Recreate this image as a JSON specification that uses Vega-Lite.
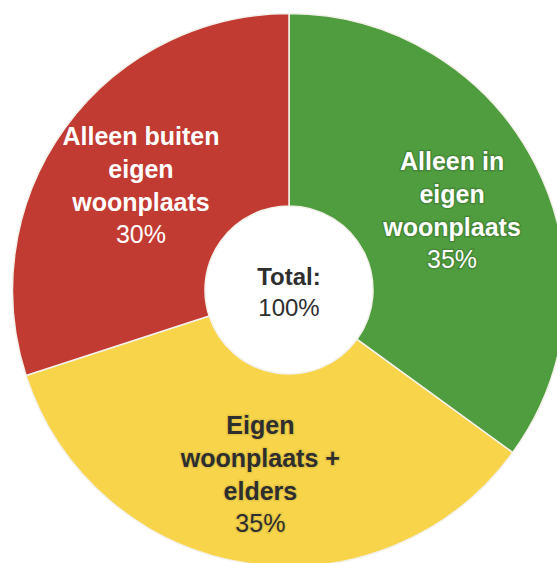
{
  "$schema": "https://vega.github.io/schema/vega-lite/v6.json",
  "width": 578,
  "height": 580,
  "autosize": {"type": "none"},
  "padding": 0,
  "background": "white",
  "view": {"stroke": null},
  "datasets": {
    "parts": [
      {"category": "Alleen in eigen woonplaats", "order": 1, "value": 35, "name": "Alleen in\neigen\nwoonplaats", "pct": "35%"},
      {"category": "Eigen woonplaats + elders", "order": 2, "value": 35, "name": "Eigen\nwoonplaats +\nelders", "pct": "35%"},
      {"category": "Alleen buiten eigen woonplaats", "order": 3, "value": 30, "name": "Alleen buiten\neigen\nwoonplaats", "pct": "30%"}
    ],
    "center": [
      {"line": "Total:", "pos": "top"},
      {"line": "100%", "pos": "bottom"}
    ]
  },
  "data": {"name": "parts"},
  "encoding": {
    "theta": {"field": "value", "type": "quantitative", "stack": true},
    "order": {"field": "order", "type": "quantitative"}
  },
  "layer": [
    {
      "mark": {"type": "arc", "outerRadius": 276.5, "innerRadius": 84, "stroke": "#f4f1ea", "strokeWidth": 1.5},
      "encoding": {
        "color": {
          "field": "category", "type": "nominal", "legend": null,
          "scale": {
            "domain": ["Alleen in eigen woonplaats", "Eigen woonplaats + elders", "Alleen buiten eigen woonplaats"],
            "range": ["#4f9d3f", "#f7d449", "#c23b33"]
          }
        }
      }
    },
    {
      "mark": {"type": "text", "radius": 183, "font": "Liberation Sans", "fontSize": 25, "fontWeight": "bold", "lineBreak": "\n", "lineHeight": 33, "baseline": "middle", "align": "center", "dy": -45, "fill": "#000", "fillOpacity": 0.2, "stroke": "#000", "strokeOpacity": 0.15, "strokeWidth": 3},
      "encoding": {
        "text": {"field": "name"},
        "opacity": {"field": "category", "type": "nominal", "legend": null, "scale": {"domain": ["Alleen in eigen woonplaats", "Eigen woonplaats + elders", "Alleen buiten eigen woonplaats"], "range": [1, 0, 1]}}
      }
    },
    {
      "mark": {"type": "text", "radius": 183, "font": "Liberation Sans", "fontSize": 25, "lineHeight": 33, "baseline": "middle", "align": "center", "dy": 53, "fill": "#000", "fillOpacity": 0.2, "stroke": "#000", "strokeOpacity": 0.15, "strokeWidth": 3},
      "encoding": {
        "text": {"field": "pct"},
        "opacity": {"field": "category", "type": "nominal", "legend": null, "scale": {"domain": ["Alleen in eigen woonplaats", "Eigen woonplaats + elders", "Alleen buiten eigen woonplaats"], "range": [1, 0, 1]}}
      }
    },
    {
      "mark": {"type": "text", "radius": 183, "font": "Liberation Sans", "fontSize": 25, "fontWeight": "bold", "lineBreak": "\n", "lineHeight": 33, "baseline": "middle", "align": "center", "dy": -45},
      "encoding": {
        "text": {"field": "name"},
        "color": {
          "field": "category", "type": "nominal", "legend": null,
          "scale": {
            "domain": ["Alleen in eigen woonplaats", "Eigen woonplaats + elders", "Alleen buiten eigen woonplaats"],
            "range": ["#ffffff", "#2e2e2e", "#ffffff"]
          }
        }
      }
    },
    {
      "mark": {"type": "text", "radius": 183, "font": "Liberation Sans", "fontSize": 25, "lineHeight": 33, "baseline": "middle", "align": "center", "dy": 53},
      "encoding": {
        "text": {"field": "pct"},
        "color": {
          "field": "category", "type": "nominal", "legend": null,
          "scale": {
            "domain": ["Alleen in eigen woonplaats", "Eigen woonplaats + elders", "Alleen buiten eigen woonplaats"],
            "range": ["#ffffff", "#2e2e2e", "#ffffff"]
          }
        }
      }
    },
    {
      "data": {"name": "center"},
      "transform": [{"filter": "datum.pos == 'top'"}],
      "mark": {"type": "text", "font": "Liberation Sans", "fontSize": 24, "fontWeight": "bold", "baseline": "middle", "align": "center", "dy": -12, "fill": "#2e2e2e"},
      "encoding": {"text": {"field": "line"}, "theta": null, "order": null}
    },
    {
      "data": {"name": "center"},
      "transform": [{"filter": "datum.pos == 'bottom'"}],
      "mark": {"type": "text", "font": "Liberation Sans", "fontSize": 24, "baseline": "middle", "align": "center", "dy": 19, "fill": "#2e2e2e"},
      "encoding": {"text": {"field": "line"}, "theta": null, "order": null}
    }
  ],
  "resolve": {"scale": {"color": "independent"}}
}
